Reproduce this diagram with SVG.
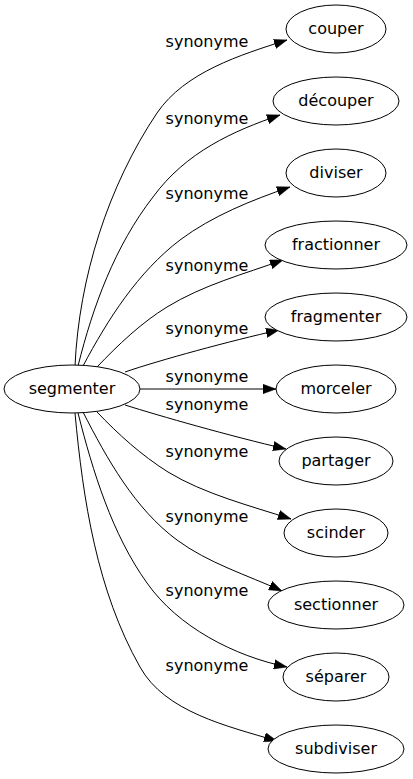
<svg xmlns="http://www.w3.org/2000/svg" width="413" height="779" viewBox="0 0 413 779">
<style>
.node ellipse{fill:#fff;stroke:#000;stroke-width:1}
text{font-family:"DejaVu Sans","Liberation Sans",sans-serif;font-size:16px;fill:#000;text-anchor:middle}
.edge path{fill:none;stroke:#000;stroke-width:1;marker-end:url(#arr)}
</style>
<defs>
<marker id="arr" markerUnits="userSpaceOnUse" viewBox="0 0 14 10" markerWidth="14" markerHeight="10" refX="13" refY="5" orient="auto">
<path d="M0,0.3 L13,5 L0,9.7 z" fill="#000" stroke="#000" stroke-width="0.5"/>
</marker>
</defs>
<rect width="413" height="779" fill="#fff"/>
<g id="edges" class="edge">
<path d="M75,366 C79,278 108,186 157,113 C185,72 240,55 287,40"/>
<path d="M78,366 C93,306 115,246 153,197 C186,152 233,131 280,115"/>
<path d="M83,366 C108,319 138,272 180,240 C212,216 252,200 290,187"/>
<path d="M97,367 C118,345 141,323 167,307 C203,285 244,274 283,260"/>
<path d="M125,372 C160,360 230,341 279,330"/>
<path d="M140,389 L276,389"/>
<path d="M125,405 C160,416 230,436 286,449"/>
<path d="M97,412 C118,434 141,455 168,472 C204,494 251,506 291,519"/>
<path d="M83,412 C107,459 135,509 177,540 C208,563 247,575 282,591"/>
<path d="M78,413 C93,472 112,534 147,583 C178,627 234,656 287,667"/>
<path d="M75,413 C83,500 97,591 140,667 C165,712 227,726 277,741"/>
<g id="edge-labels">
<text x="207" y="47">synonyme</text>
<text x="207" y="124">synonyme</text>
<text x="207" y="199">synonyme</text>
<text x="207" y="271">synonyme</text>
<text x="207" y="334">synonyme</text>
<text x="207" y="382">synonyme</text>
<text x="207" y="410">synonyme</text>
<text x="207" y="457">synonyme</text>
<text x="207" y="522">synonyme</text>
<text x="207" y="596">synonyme</text>
<text x="207" y="671">synonyme</text>
</g>
</g>
<g id="segmenter" class="node"><ellipse cx="72" cy="389" rx="68" ry="24"/><text x="72" y="393.5">segmenter</text></g>
<g id="couper" class="node"><ellipse cx="336" cy="29" rx="50" ry="24"/><text x="336" y="33.5">couper</text></g>
<g id="decouper" class="node"><ellipse cx="336" cy="101" rx="63" ry="24"/><text x="336" y="105.5">découper</text></g>
<g id="diviser" class="node"><ellipse cx="336" cy="173" rx="50" ry="24"/><text x="336" y="177.5">diviser</text></g>
<g id="fractionner" class="node"><ellipse cx="336" cy="245" rx="71" ry="24"/><text x="336" y="249.5">fractionner</text></g>
<g id="fragmenter" class="node"><ellipse cx="336" cy="317" rx="71" ry="24"/><text x="336" y="321.5">fragmenter</text></g>
<g id="morceler" class="node"><ellipse cx="336" cy="389" rx="60" ry="24"/><text x="336" y="393.5">morceler</text></g>
<g id="partager" class="node"><ellipse cx="336" cy="461" rx="57" ry="24"/><text x="336" y="465.5">partager</text></g>
<g id="scinder" class="node"><ellipse cx="336" cy="533" rx="52" ry="24"/><text x="336" y="537.5">scinder</text></g>
<g id="sectionner" class="node"><ellipse cx="336" cy="605" rx="68" ry="24"/><text x="336" y="609.5">sectionner</text></g>
<g id="separer" class="node"><ellipse cx="336" cy="677" rx="53" ry="24"/><text x="336" y="681.5">séparer</text></g>
<g id="subdiviser" class="node"><ellipse cx="336" cy="749" rx="68" ry="24"/><text x="336" y="753.5">subdiviser</text></g>
</svg>
